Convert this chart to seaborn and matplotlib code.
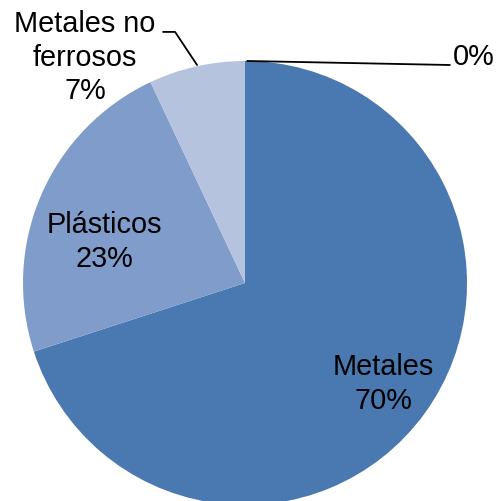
import matplotlib
matplotlib.use("Agg")
import matplotlib.pyplot as plt
import seaborn as sns
import numpy as np

sns.set_theme(style="white")
plt.rcParams['font.family'] = ['Liberation Sans', 'DejaVu Sans']

categories = ["Metales", "Plásticos", "Metales no ferrosos", ""]
values = [70, 23, 7, 0]
pct_labels = ["70%", "23%", "7%", "0%"]
colors = ["#4a78b0", "#7f9ccb", "#b5c3df", "#dfe5f1"]

fig = plt.figure(figsize=(4.98, 5.01), dpi=100)
ax = fig.add_axes([0, 0, 1, 1])
px = 222.0
cx, cy = 245.0, 283.0
ax.pie(values, colors=colors, startangle=90, counterclock=False,
       radius=1, wedgeprops=dict(linewidth=0))
ax.set_xlim(-cx / px, (498 - cx) / px)
ax.set_ylim(-(501 - cy) / px, cy / px)
ax.set_aspect('equal')
ax.axis('off')

fs = 20.8
ls = 1.25
# inner labels
ax.text(0.622, -0.455, f"{categories[0]}\n{pct_labels[0]}", ha='center', va='center',
        fontsize=fs, linespacing=ls, color='black')
ax.text(-0.634, 0.185, f"{categories[1]}\n{pct_labels[1]}", ha='center', va='center',
        fontsize=fs, linespacing=ls, color='black')
# outer labels with leaders
ax.text(-0.721, 1.015, "Metales no\nferrosos\n" + pct_labels[2], ha='center', va='center',
        fontsize=fs, linespacing=ls, color='black')
ax.plot([-0.216, -0.315, -0.369], [0.982, 1.131, 1.131], color='black', lw=1.3)
ax.text(0.937, 1.02, pct_labels[3], ha='left', va='center', fontsize=fs, color='black')
ax.plot([0.01, 0.923], [1.0, 0.982], color='black', lw=1.3)

fig.savefig("out.png", dpi=100)
